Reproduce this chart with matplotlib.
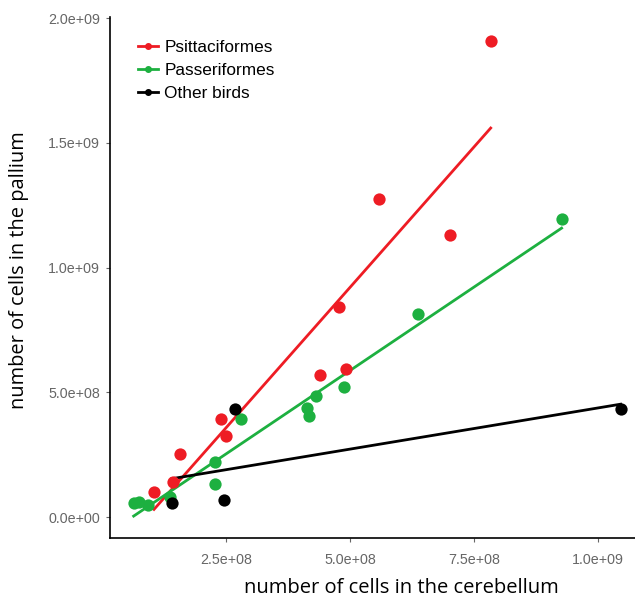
import numpy as np
import matplotlib
matplotlib.use('Agg')
from matplotlib import pyplot as plt
from matplotlib.lines import Line2D

# cells in cerebellum (x) vs cells in pallium (y)
psitt_x = [7.84e8, 5.58e8, 7.02e8, 4.78e8, 4.92e8, 4.40e8, 2.40e8, 2.50e8, 1.57e8, 1.43e8, 1.05e8]
psitt_y = [1.908e9, 1.275e9, 1.130e9, 0.842e9, 0.593e9, 0.569e9, 0.393e9, 0.325e9, 0.252e9, 0.140e9, 0.100e9]

passer_x = [9.27e8, 6.37e8, 4.88e8, 4.31e8, 4.13e8, 4.17e8, 2.80e8, 2.28e8, 2.28e8, 1.37e8, 0.64e8, 0.75e8, 0.93e8]
passer_y = [1.194e9, 0.814e9, 0.521e9, 0.485e9, 0.437e9, 0.405e9, 0.393e9, 0.220e9, 0.132e9, 0.080e9, 0.055e9, 0.062e9, 0.048e9]

other_x = [1.046e9, 2.68e8, 1.41e8, 2.46e8]
other_y = [0.433e9, 0.433e9, 0.056e9, 0.068e9]

groups = ['Psittaciformes', 'Passeriformes', 'Other birds']
colors = ['#ee1c24', '#1db040', '#000000']
xs = [psitt_x, passer_x, other_x]
ys = [psitt_y, passer_y, other_y]

fig = plt.figure(figsize=(6.35, 5.97), dpi=100)
ax = fig.add_axes([0.173, 0.0988, 0.827, 0.8727])

for x, y, c in zip(xs, ys, colors):
    x = np.array(x)
    y = np.array(y)
    ax.scatter(x, y, s=78, color=c, zorder=3, linewidths=0)
    k, b = np.polyfit(x, y, 1)
    xx = np.array([x.min(), x.max()])
    ax.plot(xx, k * xx + b, color=c, lw=2.0, zorder=2)

ax.set_xlim(1.6e7, 1.075e9)
ax.set_ylim(-8.4e7, 2.004e9)
ax.set_xticks([2.5e8, 5.0e8, 7.5e8, 1.0e9])
ax.set_xticklabels(['2.5e+08', '5.0e+08', '7.5e+08', '1.0e+09'])
ax.set_yticks([0, 5e8, 1e9, 1.5e9, 2e9])
ax.set_yticklabels(['0.0e+00', '5.0e+08', '1.0e+09', '1.5e+09', '2.0e+09'])

for s in ['top', 'right']:
    ax.spines[s].set_visible(False)
for s in ['left', 'bottom']:
    ax.spines[s].set_linewidth(1.2)
ax.tick_params(axis='both', length=3, width=0.8, color='#666666', labelcolor='#666666',
               labelsize=10.3, pad=4)
ax.tick_params(axis='x', pad=8)
for lab in ax.get_xticklabels() + ax.get_yticklabels():
    lab.set_family('Liberation Sans')

ax.set_xlabel('number of cells in the cerebellum', fontsize=14.5, family='Open Sans')
ax.set_ylabel('number of cells in the pallium', fontsize=14.4, family='Open Sans')
ax.xaxis.set_label_coords(0.556, -0.077)
ax.yaxis.set_label_coords(-0.154, 0.514)

handles = [Line2D([0], [0], color=c, lw=2, marker='o', markersize=4) for c in colors]
ax.legend(handles, groups, loc='upper left', bbox_to_anchor=(0.025, 0.985), frameon=False,
          handlelength=1.15, handletextpad=0.35, labelspacing=0.45,
          prop={'family': 'Liberation Sans', 'size': 12.4})

fig.savefig('out.png', dpi=100)
